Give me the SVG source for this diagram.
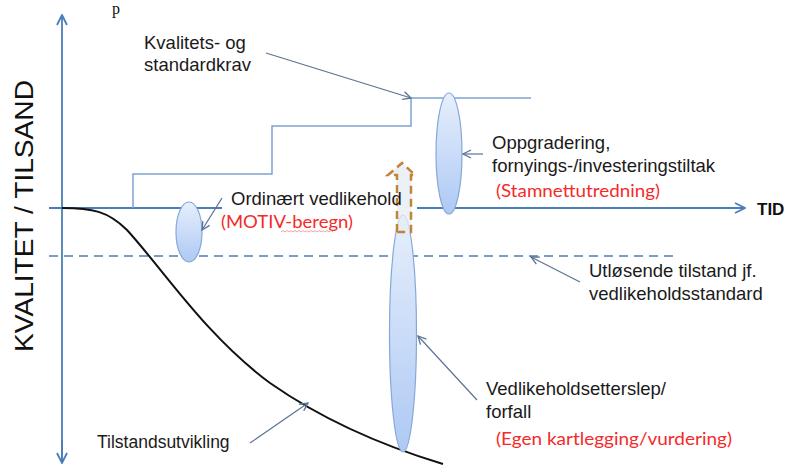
<svg xmlns="http://www.w3.org/2000/svg" width="789" height="466" viewBox="0 0 789 466">
<defs>
<linearGradient id="ell" x1="0" y1="0" x2="0" y2="1">
<stop offset="0" stop-color="#e6effc"/>
<stop offset="1" stop-color="#aec9f4"/>
</linearGradient>
<marker id="open" viewBox="0 0 10 10" refX="9" refY="5" markerWidth="10" markerHeight="10" markerUnits="userSpaceOnUse" orient="auto">
<path d="M1,1 L9,5 L1,9" fill="none" stroke="#5b7393" stroke-width="1.3"/>
</marker>
<marker id="axisHead" viewBox="0 0 12 12" refX="11" refY="6" markerWidth="12" markerHeight="12" markerUnits="userSpaceOnUse" orient="auto">
<path d="M1,1 L11,6 L1,11" fill="none" stroke="#4a7ebb" stroke-width="1.8"/>
</marker>
<style>
.t{font-family:"Liberation Sans",Arial,sans-serif;font-size:18.5px;fill:#1a1a1a}
.r{font-family:Lato,"Open Sans",sans-serif;font-size:17px;fill:#f52a2a}
.ax{stroke:#4a7ebb;stroke-width:1.8;fill:none}
.st{stroke:#7ea2cf;stroke-width:1.5;fill:none}
.co{stroke:#5b7393;stroke-width:1.2;fill:none;marker-end:url(#open)}
.el{fill:url(#ell);stroke:#86a8d8;stroke-width:1.2}
</style>
</defs>
<rect width="789" height="466" fill="#ffffff"/>
<text x="112" y="14" font-family="'Liberation Serif',serif" font-size="16" fill="#111">p</text>

<g id="axes">
<line class="ax" x1="62" y1="462" x2="62" y2="15" marker-end="url(#axisHead)"/>
<line class="ax" x1="62" y1="440" x2="62" y2="463" marker-end="url(#axisHead)"/>
<line class="ax" x1="49" y1="208" x2="222" y2="208"/>
<line class="ax" x1="417" y1="208" x2="745" y2="208" marker-end="url(#axisHead)"/>
<line x1="49" y1="256" x2="674" y2="256" stroke="#4a7ebb" stroke-width="1.5" stroke-dasharray="9,6"/>
</g>

<g id="staircase">
<path class="st" d="M133,208 V174 H272 V126 H411 V98 H531"/>
</g>

<g id="curve">
<path d="M62,208 C92,208 108,211 127,230 C162,268 205,335 270,383 C320,418 380,445 443,464" fill="none" stroke="#111" stroke-width="2"/>
</g>

<g id="ellipse-ordinaert">
<ellipse class="el" cx="189" cy="232" rx="13" ry="30"/>
</g>
<g id="ellipse-oppgradering">
<ellipse class="el" cx="449" cy="153.5" rx="13" ry="60.5"/>
</g>
<g id="ellipse-etterslep">
<ellipse class="el" cx="403" cy="333.5" rx="13.5" ry="118.5"/>
</g>
<g id="dashed-arrow">
<path d="M397,232 V175 H388 L402,163 L415,175 H411 V232 Z" fill="#e6ecf3" fill-opacity="0.75" stroke="#c0853a" stroke-width="2.5" stroke-dasharray="8,5"/>
</g>

<g id="connectors">
<line class="co" x1="266" y1="53" x2="411" y2="98"/>
<line class="co" x1="222" y1="198" x2="202" y2="230"/>
<line class="co" x1="483" y1="154" x2="463" y2="154"/>
<line class="co" x1="580" y1="282" x2="531" y2="257"/>
<line class="co" x1="477" y1="400" x2="418" y2="336"/>
<line class="co" x1="250" y1="443" x2="308" y2="403"/>
</g>

<g id="label-axis-y">
<text transform="translate(33,352) rotate(-90)" font-family="'Liberation Sans',Arial,sans-serif" font-size="26" fill="#111" textLength="272" lengthAdjust="spacingAndGlyphs">KVALITET / TILSAND</text>
</g>
<g id="label-tid">
<text x="757" y="215" font-family="'Liberation Sans',Arial,sans-serif" font-size="17" font-weight="bold" fill="#111">TID</text>
</g>
<g id="label-kvalitet">
<text class="t" x="144" y="49">Kvalitets- og</text>
<text class="t" x="144" y="71">standardkrav</text>
</g>
<g id="label-oppgradering">
<text class="t" x="492" y="149">Oppgradering,</text>
<text class="t" x="492" y="172">fornyings-/investeringstiltak</text>
<text class="r" x="496" y="197" textLength="164" lengthAdjust="spacingAndGlyphs">(Stamnettutredning)</text>
</g>
<g id="label-ordinaert">
<text class="t" x="231" y="205">Ordinært vedlikehold</text>
<text class="r" x="221" y="228" textLength="132" lengthAdjust="spacingAndGlyphs">(MOTIV-beregn)</text>
<path d="M281,232 l2,-1.5 l2,1.5 l2,-1.5 l2,1.5 l2,-1.5 l2,1.5 l2,-1.5 l2,1.5 l2,-1.5 l2,1.5 l2,-1.5 l2,1.5 l2,-1.5 l2,1.5 l2,-1.5 l2,1.5 l2,-1.5 l2,1.5 l2,-1.5 l2,1.5 l2,-1.5 l2,1.5 l2,-1.5 l2,1.5 l2,-1.5 l2,1.5" fill="none" stroke="#f08a8a" stroke-width="0.8"/>
</g>
<g id="label-utlosende">
<text class="t" x="589" y="277">Utløsende tilstand jf.</text>
<text class="t" x="589" y="300">vedlikeholdsstandard</text>
</g>
<g id="label-etterslep">
<text class="t" x="486" y="395">Vedlikeholdsetterslep/</text>
<text class="t" x="486" y="418">forfall</text>
<text class="r" x="496" y="445" textLength="236" lengthAdjust="spacingAndGlyphs">(Egen kartlegging/vurdering)</text>
</g>
<g id="label-tilstand">
<text class="t" x="97" y="448" style="font-size:17.5px">Tilstandsutvikling</text>
</g>
</svg>
